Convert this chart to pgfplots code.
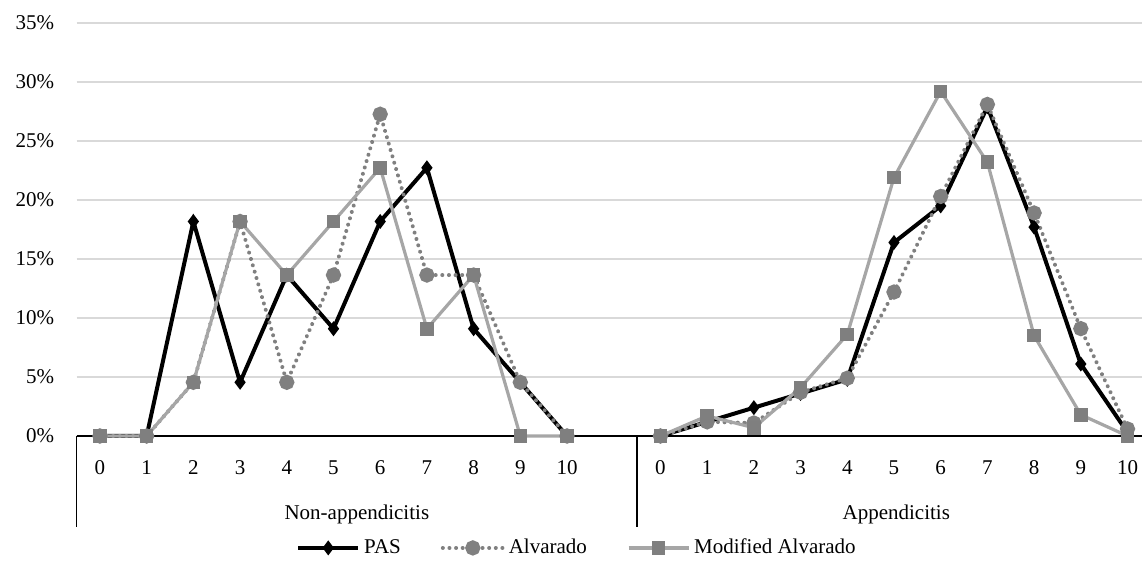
\documentclass[border=0pt]{standalone}
\usepackage{fontspec}
\setmainfont{Liberation Serif}
\usepackage{pgfplots}
\pgfplotsset{compat=1.18}
\definecolor{alvc}{HTML}{808080}
\definecolor{modl}{HTML}{A6A6A6}
\definecolor{modm}{HTML}{7F7F7F}
\definecolor{gridc}{HTML}{D9D9D9}
\begin{document}
\fontsize{10.5}{12}\selectfont
\begin{tikzpicture}
\begin{axis}[
 scale only axis, width=532.7pt, height=206.5pt,
 at={(0pt,0pt)}, anchor=south west,
 xmin=-0.5, xmax=22.31, ymin=0, ymax=35,
 axis line style={draw=none},
 ytick={0,5,10,15,20,25,30,35},
 yticklabel={\pgfmathprintnumber{\tick}\%},
 ymajorgrids, grid style={gridc, line width=0.7pt},
 xtick={0,1,2,3,4,5,6,7,8,9,10,12,13,14,15,16,17,18,19,20,21,22},
 xticklabels={0,1,2,3,4,5,6,7,8,9,10,0,1,2,3,4,5,6,7,8,9,10},
 major tick length=0pt,
 tick label style={font=\fontsize{10.5}{12}\selectfont},
 /pgf/number format/assume math mode=true,
 xticklabel style={yshift=-8.5pt},
 yticklabel style={xshift=-7.5pt},
 clip=false,
 unbounded coords=jump,
 legend columns=3,
 legend style={at={(axis description cs:0.4706,-0.271)}, anchor=center, draw=none,
   font=\fontsize{10.5}{12}\selectfont,
   /tikz/every even column/.append style={column sep=18pt}},
 legend image code/.code={\draw[mark repeat=2,mark phase=2] plot coordinates {(0pt,0pt) (15pt,0pt) (30pt,0pt)};},
]
\draw[black, line width=0.8pt] (axis cs:-0.5,0) -- (axis cs:22.31,0);
\draw[black, line width=0.8pt] (axis cs:-0.5,0) -- ++(0pt,-45.5pt);
\draw[black, line width=0.8pt] (axis cs:11.5,0) -- ++(0pt,-45.5pt);
\node at (axis cs:5.5,0) [yshift=-39pt] {Non-appendicitis};
\node at (axis cs:17.05,0) [yshift=-39pt] {Appendicitis};

\addplot[black, line width=2pt, mark=diamond*, mark size=2.1pt, mark options={fill=black}]
coordinates {
(0,0) (1,0) (2,18.18) (3,4.55) (4,13.64) (5,9.09) (6,18.18) (7,22.73) (8,9.09) (9,4.55) (10,0)
(11,nan)
(12,0) (13,1.2) (14,2.4) (15,3.6) (16,4.8) (17,16.4) (18,19.5) (19,27.9) (20,17.7) (21,6.1) (22,0.3)
};
\addlegendentry{PAS}

\addplot[alvc, line width=2pt, line cap=round, dash pattern=on 0.01pt off 3.3pt, mark=*, mark size=2.8pt, mark options={solid, fill=alvc}]
coordinates {
(0,0) (1,0) (2,4.55) (3,18.18) (4,4.55) (5,13.64) (6,27.27) (7,13.64) (8,13.64) (9,4.55) (10,0)
(11,nan)
(12,0) (13,1.2) (14,1.1) (15,3.7) (16,4.9) (17,12.2) (18,20.3) (19,28.1) (20,18.9) (21,9.1) (22,0.6)
};
\addlegendentry{Alvarado}

\addplot[modl, line width=1.6pt, mark=square*, mark size=2.6pt, mark options={fill=modm, draw=modm}]
coordinates {
(0,0) (1,0) (2,4.55) (3,18.18) (4,13.64) (5,18.18) (6,22.73) (7,9.09) (8,13.64) (9,0) (10,0)
(11,nan)
(12,0) (13,1.7) (14,0.7) (15,4.1) (16,8.6) (17,21.9) (18,29.2) (19,23.2) (20,8.5) (21,1.8) (22,0)
};
\addlegendentry{Modified Alvarado}
\end{axis}
\pgfresetboundingbox
\path[use as bounding box] (-38.3pt,-65.5pt) rectangle (532.7pt,218pt);
\end{tikzpicture}
\end{document}
